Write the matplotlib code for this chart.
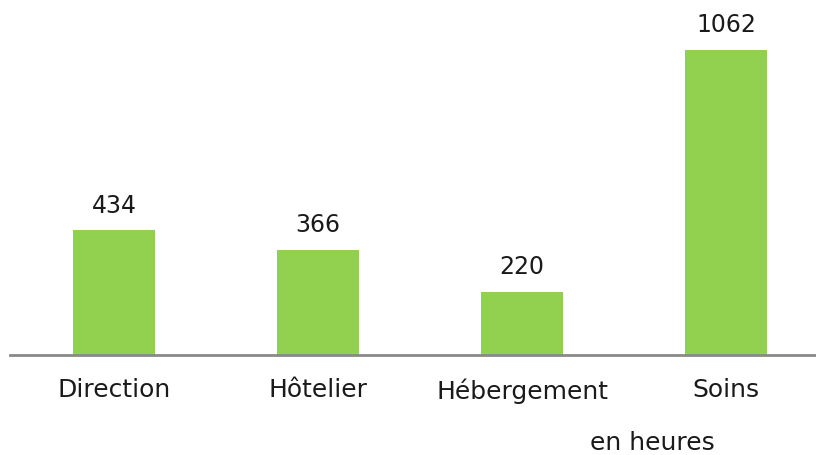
import matplotlib
matplotlib.use("Agg")
import matplotlib.pyplot as plt

categories = ["Direction", "Hôtelier", "Hébergement", "Soins"]
values = [434, 366, 220, 1062]
unit_label = "en heures"

plt.rcParams['font.family'] = ['DejaVu Sans']
fig = plt.figure(figsize=(8.16, 4.56), dpi=100)
ax = fig.add_axes([10/816, 100/456, 806/816, 356/456])

x = list(range(len(categories)))
bars = ax.bar(x, values, width=82/204, color="#92D050", zorder=2)
ax.set_xlim(-0.51, 3.44)
ax.set_ylim(0, 1240)

for xi, v in zip(x, values):
    ax.annotate(str(v), (xi, v), xytext=(0, 10), textcoords="offset points",
                ha="center", va="bottom", fontsize=17, color="#1a1a1a")

for s in ["top", "right", "left"]:
    ax.spines[s].set_visible(False)
ax.spines["bottom"].set_color("#898989")
ax.spines["bottom"].set_linewidth(2)
ax.set_yticks([])
ax.set_xticks(x)
ax.set_xticklabels(categories, fontsize=18, color="#1a1a1a")
ax.tick_params(axis="x", length=0, pad=16)

fig.text(652/816, 1 - 443/456, unit_label, ha="center", va="center",
         fontsize=18, color="#1a1a1a")

fig.savefig("out.png", dpi=100)
